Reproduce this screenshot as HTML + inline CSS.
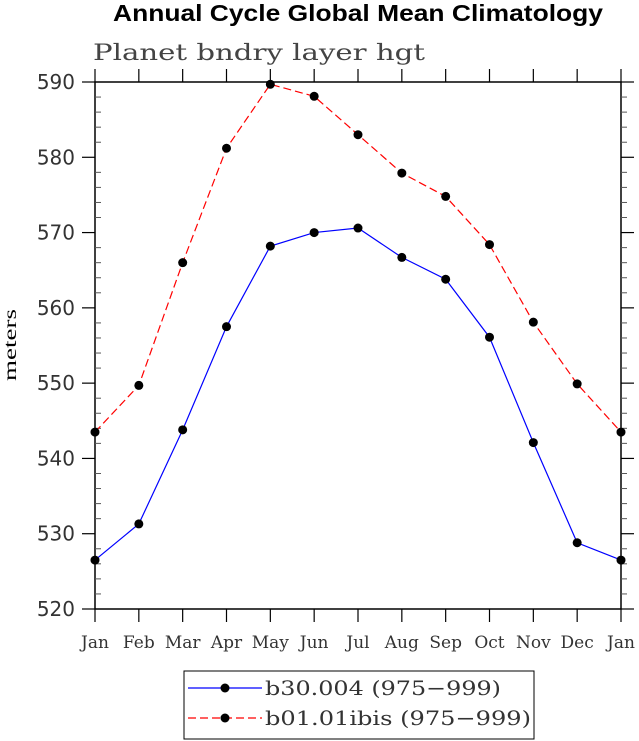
<!DOCTYPE html>
<html><head><meta charset="utf-8"><style>
body{margin:0;background:#fff;}
svg{display:block;}
</style></head><body>
<svg id="chart" width="639" height="741" xmlns="http://www.w3.org/2000/svg">
<text x="358" y="21" text-anchor="middle" font-family="Liberation Sans, sans-serif" font-weight="bold" font-size="23" textLength="490" lengthAdjust="spacingAndGlyphs">Annual Cycle Global Mean Climatology</text>
<text x="93" y="60" font-family="DejaVu Serif, Liberation Serif, serif" font-size="22" fill="#444" textLength="332" lengthAdjust="spacingAndGlyphs">Planet bndry layer hgt</text>
<text transform="translate(16,345) rotate(-90)" text-anchor="middle" font-family="Liberation Serif, serif" font-size="18" textLength="72" lengthAdjust="spacingAndGlyphs">meters</text>
<g id="axes"></g>
<g id="series"></g>
<g>
<rect x="184" y="671" width="350" height="68" fill="none" stroke="#000" stroke-width="1"/>
<line x1="188" y1="688" x2="262" y2="688" stroke="#0000ff" stroke-width="1.2"/>
<circle cx="225" cy="688" r="4.5" fill="#000"/>
<text x="265" y="695" font-family="DejaVu Serif, Liberation Serif, serif" font-size="20" fill="#333" textLength="236" lengthAdjust="spacingAndGlyphs">b30.004 (975−999)</text>
<line x1="188" y1="718" x2="262" y2="718" stroke="#ff0000" stroke-width="1.2" stroke-dasharray="8,4"/>
<circle cx="225" cy="718" r="4.5" fill="#000"/>
<text x="265" y="725" font-family="DejaVu Serif, Liberation Serif, serif" font-size="20" fill="#333" textLength="266" lengthAdjust="spacingAndGlyphs">b01.01ibis (975−999)</text>
</g>
</svg>
<script>
const months=["Jan","Feb","Mar","Apr","May","Jun","Jul","Aug","Sep","Oct","Nov","Dec","Jan"];
const blueValues=[526.5,531.3,543.8,557.5,568.2,570.0,570.6,566.7,563.8,556.1,542.1,528.8,526.5];
const redValues=[543.5,549.7,566.0,581.2,589.7,588.1,583.0,577.9,574.8,568.4,558.1,549.9,543.5];
const yTicks=[520,530,540,550,560,570,580,590];
const NS="http://www.w3.org/2000/svg";
const L=95,R=621,T=82,B=609,ymin=520,ymax=590;
const xs=i=>L+i*(R-L)/(months.length-1);
const ys=v=>B-(v-ymin)/(ymax-ymin)*(B-T);
function mk(tag,attrs,parent){const e=document.createElementNS(NS,tag);for(const k in attrs)e.setAttribute(k,attrs[k]);parent.appendChild(e);return e;}
const ax=document.getElementById('axes');
const frame=mk('rect',{x:L,y:T,width:R-L,height:B-T,fill:'none',stroke:'#000','stroke-width':1.5},ax);


months.forEach((m,i)=>{
  const x=xs(i);
  mk('line',{x1:x,y1:B,x2:x,y2:B+13,stroke:'#000','stroke-width':1.2},ax);
  mk('line',{x1:x,y1:T,x2:x,y2:T-13,stroke:'#000','stroke-width':1.2},ax);
  const t=mk('text',{x:x,y:B+39,'text-anchor':'middle','font-family':'DejaVu Serif, Liberation Serif, serif','font-size':17,fill:'#333'},ax);
  t.textContent=m;
  
  
});
for(let v=ymin;v<=ymax;v+=2){
  const y=ys(v),maj=(v%10===0);
  if(maj){
    mk('line',{x1:L,y1:y,x2:L-13,y2:y,stroke:'#000','stroke-width':1.2},ax);
    mk('line',{x1:R,y1:y,x2:R+13,y2:y,stroke:'#000','stroke-width':1.2},ax);
  } else {
    mk('line',{x1:L,y1:y,x2:L+6,y2:y,stroke:'#555','stroke-width':1},ax);
    mk('line',{x1:R,y1:y,x2:R+6,y2:y,stroke:'#555','stroke-width':1},ax);
  }
}
yTicks.forEach(v=>{
  const t=mk('text',{x:L-20,y:ys(v)+7,'text-anchor':'end','font-family':'DejaVu Sans, Liberation Sans, sans-serif','font-size':20,fill:'#333'},ax);
  t.textContent=v;
  
  
});
const sg=document.getElementById('series');
function series(vals,color,dash,name){
  const pts=vals.map((v,i)=>xs(i)+','+ys(v)).join(' ');
  const pl=mk('polyline',{points:pts,fill:'none',stroke:color,'stroke-width':1.2},sg);
  if(dash)pl.setAttribute('stroke-dasharray',dash);
  
  
  vals.forEach((v,i)=>{
    const c=mk('circle',{cx:xs(i),cy:ys(v),r:4.5,fill:'#000'},sg);
    
    
  });
}
series(redValues,'#ff0000','8,4','b01-ibis');
series(blueValues,'#0000ff',null,'b30-004');
</script>
</body></html>
